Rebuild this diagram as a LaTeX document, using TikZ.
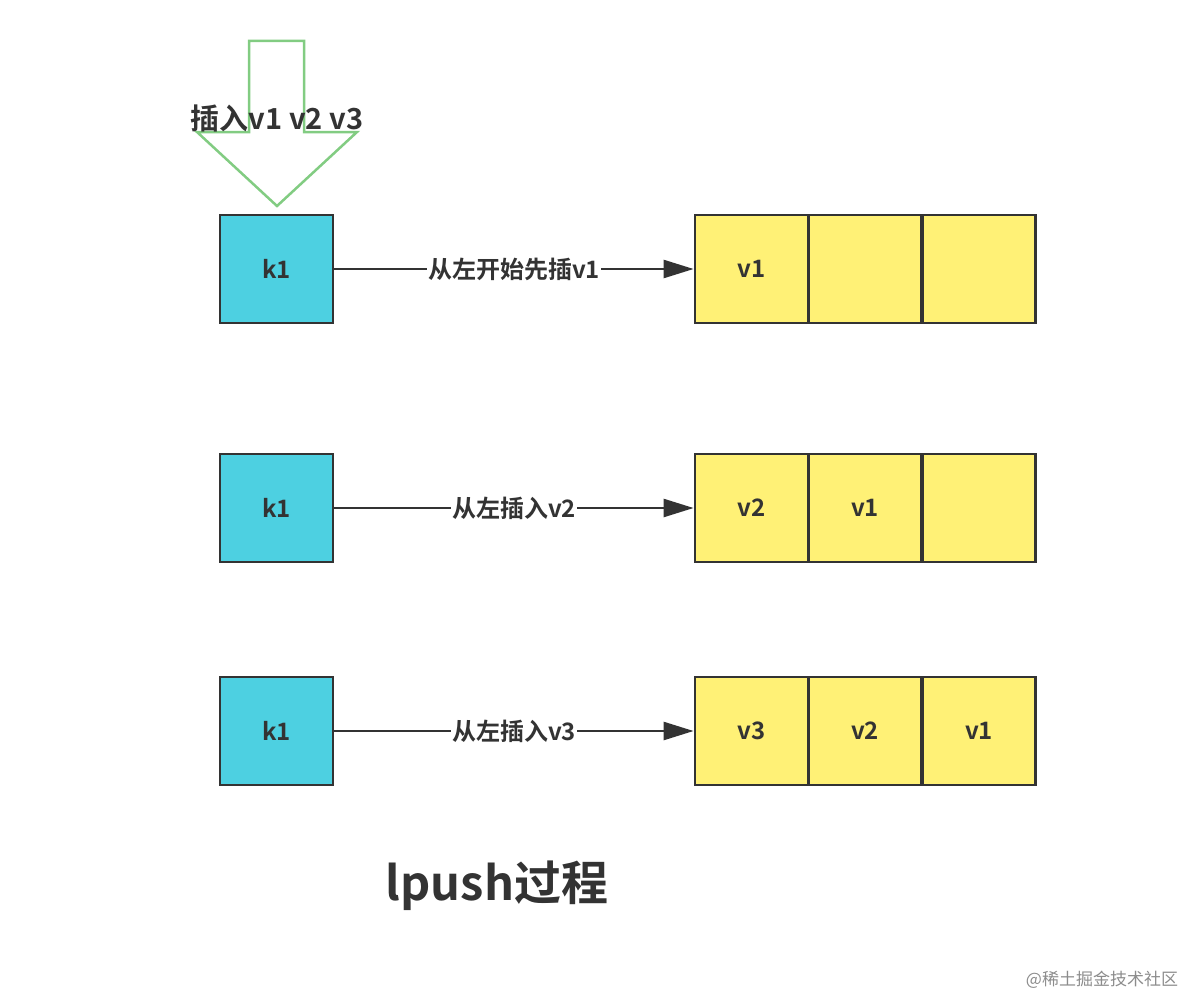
\documentclass[tikz,border=0pt]{standalone}
\usepackage{fontspec}
\setmainfont{Noto Sans CJK SC}[BoldFont={Noto Sans CJK SC Bold}]
\usetikzlibrary{arrows.meta}
\definecolor{keyblue}{HTML}{4DD0E1}
\definecolor{cellyellow}{HTML}{FFF176}
\definecolor{darkline}{HTML}{333333}
\definecolor{arrowgreen}{HTML}{82CC82}
\begin{document}
\begin{tikzpicture}[x=1pt,y=-1pt]
		\tikzstyle{key}=[rectangle,draw=darkline,line width=2.8pt,fill=keyblue,minimum width=113pt,minimum height=108pt,font=\bfseries\fontsize{24}{28}\selectfont,text=darkline]
		\tikzstyle{cell}=[key,fill=cellyellow]
		\tikzstyle{link}=[draw=darkline,line width=2.5pt,-{Triangle[length=30pt,width=18pt]}]
		\tikzstyle{label}=[fill=white,inner sep=1pt,font=\bfseries\fontsize{24}{28}\selectfont,text=darkline]
		\useasboundingbox (0,0) rectangle (1188,998);
		% push arrow
		\draw[arrowgreen,line width=2.5pt,line join=miter] (249,41) -- (304,41) -- (304,132) -- (357,132)
			-- (277,206) -- (197,132) -- (249,132) -- cycle;
		\node[font=\bfseries\fontsize{29}{34}\selectfont,text=darkline] (push) at (277,118) {插入v1 v2 v3};
		% row 1
		\node[key] (k_1) at (276.5,269) {k1};
		\node[cell] (c_11) at (751.5,269) {v1};
		\node[cell] (c_12) at (865,269) {};
		\node[cell] (c_13) at (979,269) {};
		\draw[link] (k_1) -- node[label] {从左开始先插v1} (c_11);
		% row 2
		\node[key] (k_2) at (276.5,508) {k1};
		\node[cell] (c_21) at (751.5,508) {v2};
		\node[cell] (c_22) at (865,508) {v1};
		\node[cell] (c_23) at (979,508) {};
		\draw[link] (k_2) -- node[label] {从左插入v2} (c_21);
		% row 3
		\node[key] (k_3) at (276.5,731) {k1};
		\node[cell] (c_31) at (751.5,731) {v3};
		\node[cell] (c_32) at (865,731) {v2};
		\node[cell] (c_33) at (979,731) {v1};
		\draw[link] (k_3) -- node[label] {从左插入v3} (c_31);
		\node[font=\bfseries\fontsize{47}{54}\selectfont,text=darkline] (title) at (497,886) {lpush过程};
		\node[font=\fontsize{17}{20}\selectfont,text=black!45] (mark) at (1102,980) {@稀土掘金技术社区};
	\end{tikzpicture}
\end{document}
